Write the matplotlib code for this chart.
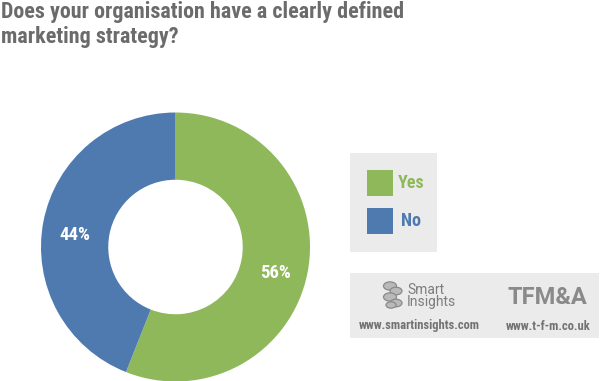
import matplotlib
matplotlib.use("Agg")
import matplotlib.pyplot as plt
from matplotlib.patches import Rectangle, Circle

# ---- data ----
categories = ["Yes", "No"]
values = [56, 44]
colors = ["#8fb85b", "#4e7aaf"]
title_text = "Does your organisation have a clearly defined\nmarketing strategy?"

FAM = ["Roboto Condensed", "DejaVu Sans"]
REG = ["Roboto", "DejaVu Sans"]

W, H = 600, 381
fig = plt.figure(figsize=(W / 100, H / 100), dpi=100)
fig.patch.set_facecolor("white")

def fx(px):
    return px / W

def fy(py):
    return 1 - py / H

# ---- donut ----
cx, cy, r = 175.5, 247, 134.5
ax = fig.add_axes([fx(cx - r), fy(cy + r), 2 * r / W, 2 * r / H])
wedges, texts, autotexts = ax.pie(
    values, colors=colors, startangle=90, counterclock=False,
    radius=1.0, wedgeprops=dict(width=0.5, edgecolor="none"),
    autopct=lambda p: f"{p:.0f}%", pctdistance=0.76,
    textprops=dict(color="white", fontsize=13.5, fontweight="bold", family=FAM),
)
ax.set_xlim(-1, 1)
ax.set_ylim(-1, 1)
ax.set_aspect("equal")
ax.axis("off")
for t in autotexts:
    x, y = t.get_position()
    t.set_position((x, y - 0.05))

# ---- title ----
fig.text(fx(1), fy(1), title_text, ha="left", va="top", fontsize=15.8,
         fontweight="bold", color="#6b6b6b", family=FAM, linespacing=1.2)

# ---- legend box ----
fig.patches.append(Rectangle((fx(350), fy(252)), fx(437) - fx(350), fy(153) - fy(252),
                             transform=fig.transFigure, facecolor="#ebebeb", edgecolor="none"))
sq_y = [170, 208]
txt_x = [398, 401]
for cat, col, y0, tx in zip(categories, colors, sq_y, txt_x):
    fig.patches.append(Rectangle((fx(367), fy(y0 + 25.5)), fx(25.5), 25.5 / H,
                                 transform=fig.transFigure, facecolor=col, edgecolor="none"))
    fig.text(fx(tx), fy(y0 + 13), cat, ha="left", va="center", fontsize=13,
             fontweight="bold", color=col, family=FAM)

# ---- logos box ----
fig.patches.append(Rectangle((fx(350), fy(338)), fx(599) - fx(350), fy(273) - fy(338),
                             transform=fig.transFigure, facecolor="#ebebeb", edgecolor="none"))
# simple Smart Insights icon
for (ox, oy, rr) in [(390, 286, 6.5), (396, 291, 6.0), (390, 297, 6.5), (396, 303, 6.0), (391, 305, 5.0)]:
    fig.patches.append(Circle((fx(ox), fy(oy)), rr / W, transform=fig.transFigure,
                              facecolor="#b9b9b9", edgecolor="#8a8a8a", linewidth=0.9))
fig.text(fx(407), fy(296), "Smart\nInsights", ha="left", va="center", fontsize=10,
         color="#7d7d7d", family=REG, linespacing=0.9)
fig.text(fx(547.5), fy(298), "TFM&A", ha="center", va="center", fontsize=17,
         fontweight="bold", color="#8a8a8a", family=REG)
fig.text(fx(419), fy(326), "www.smartinsights.com", ha="center", va="center", fontsize=9,
         fontweight="bold", color="#727272", family=FAM)
fig.text(fx(548), fy(326), "www.t-f-m.co.uk", ha="center", va="center", fontsize=9,
         fontweight="bold", color="#727272", family=FAM)

fig.savefig("out.png", dpi=100, facecolor="white")
